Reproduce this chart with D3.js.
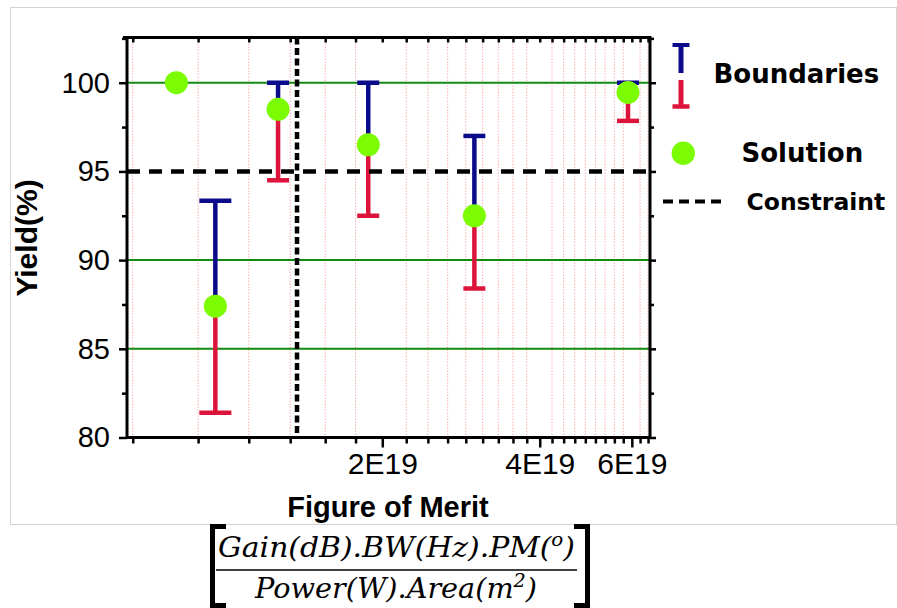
<!DOCTYPE html>
<html><head><meta charset="utf-8">
<script src="https://cdn.jsdelivr.net/npm/d3@7"></script>
<style>
  body { margin: 0; background: #fff; }
  svg { display: block; }
  .tick text { font-family: "Liberation Sans", Arial, sans-serif; fill: #000; }
</style>
</head><body>
<svg id="chart" width="897" height="608"></svg>
<script>
// Yield versus figure of merit: optimised solutions with their yield boundaries
const fom        = [8.08e18, 9.59e18, 1.264e19, 1.88e19, 3.0e19, 5.9e19];
const solution   = [100, 87.4, 98.5, 96.5, 92.5, 99.45];
const upperBound = [null, 93.35, 100, 100, 97.0, 100];
const lowerBound = [null, 81.4, 94.5, 92.5, 88.4, 97.85];

const yieldConstraint = 95;
const fomConstraint = 1.374e19;

const xTickValues = [2e19, 4e19, 6e19];
const xTickLabels = ["2E19", "4E19", "6E19"];
const yTickValues = [80, 85, 90, 95, 100];
const yTickLabels = ["80", "85", "90", "95", "100"];
const yGridValues = [85, 90, 100];
const legendLabels = ["Boundaries", "Solution", "Constraint"];

const svg = d3.select("#chart");
const plot = { l: 127, r: 650, t: 37.5, b: 437.5 };

const x = d3.scaleLog().domain([6.5e18, 6.5e19]).range([plot.l, plot.r]);
const y = d3.scaleLinear().domain([80, 102.55]).range([plot.b, plot.t]);

// minor x ticks: nine steps between majors
const xMinor = d3.range(3, 30).map(k => k * 2e19 / 9)
  .filter(v => !xTickValues.some(m => Math.abs(m - v) < 1e16))
  .filter(v => v >= x.domain()[0] && v <= x.domain()[1]);
const yMinor = d3.range(82.5, 102.55, 5);

// outer light frame
svg.append("rect").attr("x", 10.5).attr("y", 7.5).attr("width", 886).attr("height", 517)
  .attr("fill", "none").attr("stroke", "#d4d4d4").attr("stroke-width", 1);

// vertical minor grid
svg.append("g").selectAll("line").data(xMinor).join("line")
  .attr("x1", d => x(d)).attr("x2", d => x(d))
  .attr("y1", plot.t).attr("y2", plot.b)
  .attr("stroke", "#ff8f8f").attr("stroke-width", 1)
  .attr("stroke-dasharray", "1.5,1.5").attr("opacity", 0.7);

// horizontal major grid
svg.append("g").selectAll("line").data(yGridValues).join("line")
  .attr("x1", plot.l).attr("x2", plot.r)
  .attr("y1", d => y(d)).attr("y2", d => y(d))
  .attr("stroke", "#138a13").attr("stroke-width", 2);

// error bars: upper boundary in navy, lower boundary in crimson
const bars = fom.map((f, i) => ({ f, s: solution[i], hi: upperBound[i], lo: lowerBound[i], i }))
  .filter(d => d.hi !== null);
const capHalf = d => (d.i === 1 ? 16 : 11);
const gBars = svg.append("g");
bars.forEach(d => {
  const cx = x(d.f);
  gBars.append("line").attr("x1", cx).attr("x2", cx).attr("y1", y(d.s)).attr("y2", y(d.hi))
    .attr("stroke", "#0a0a8a").attr("stroke-width", 4.5);
  gBars.append("line").attr("x1", cx - capHalf(d)).attr("x2", cx + capHalf(d))
    .attr("y1", y(d.hi)).attr("y2", y(d.hi))
    .attr("stroke", "#0a0a8a").attr("stroke-width", 4.5);
  gBars.append("line").attr("x1", cx).attr("x2", cx).attr("y1", y(d.s)).attr("y2", y(d.lo))
    .attr("stroke", "#dc143c").attr("stroke-width", 4.5);
  gBars.append("line").attr("x1", cx - capHalf(d)).attr("x2", cx + capHalf(d))
    .attr("y1", y(d.lo)).attr("y2", y(d.lo))
    .attr("stroke", "#dc143c").attr("stroke-width", 4.5);
});

// constraint lines
svg.append("line").attr("x1", plot.l).attr("x2", plot.r)
  .attr("y1", y(yieldConstraint)).attr("y2", y(yieldConstraint))
  .attr("stroke", "#000").attr("stroke-width", 4.5).attr("stroke-dasharray", "13,9");
svg.append("line").attr("x1", x(fomConstraint)).attr("x2", x(fomConstraint))
  .attr("y1", plot.t).attr("y2", plot.b)
  .attr("stroke", "#000").attr("stroke-width", 4.5).attr("stroke-dasharray", "7,3.5");

// solutions
svg.append("g").selectAll("circle").data(fom).join("circle")
  .attr("cx", d => x(d)).attr("cy", (d, i) => y(solution[i])).attr("r", 11.5)
  .attr("fill", "#7cfc00");

// axes
function styleAxis(g, tickW) {
  g.select(".domain").remove();
  g.selectAll(".tick line").attr("stroke", "#000").attr("stroke-width", tickW);
}
svg.append("g").attr("transform", `translate(0,${plot.b})`)
  .call(d3.axisBottom(x).tickValues(xMinor).tickSize(6).tickFormat(""))
  .call(g => styleAxis(g, 2.5));
svg.append("g").attr("transform", `translate(0,${plot.b})`)
  .call(d3.axisBottom(x).tickValues(xTickValues).tickSize(10).tickPadding(5)
    .tickFormat((d, i) => xTickLabels[i]))
  .call(g => styleAxis(g, 2.5))
  .call(g => g.selectAll(".tick text").attr("font-size", 30));
svg.append("g").attr("transform", `translate(0,${plot.t})`)
  .call(d3.axisBottom(x).tickValues(xMinor.concat(xTickValues)).tickSize(5).tickFormat(""))
  .call(g => styleAxis(g, 2.5));

svg.append("g").attr("transform", `translate(${plot.l},0)`)
  .call(d3.axisLeft(y).tickValues(yMinor).tickSize(5).tickFormat(""))
  .call(g => styleAxis(g, 2.5));
svg.append("g").attr("transform", `translate(${plot.l},0)`)
  .call(d3.axisLeft(y).tickValues(yTickValues).tickSize(8).tickPadding(9)
    .tickFormat((d, i) => yTickLabels[i]))
  .call(g => styleAxis(g, 2.5))
  .call(g => g.selectAll(".tick text").attr("font-size", 29));
svg.append("g").attr("transform", `translate(${plot.r},0)`)
  .call(d3.axisRight(y).tickValues(yMinor).tickSize(4).tickFormat(""))
  .call(g => styleAxis(g, 2.5));
svg.append("g").attr("transform", `translate(${plot.r},0)`)
  .call(d3.axisRight(y).tickValues(yTickValues).tickSize(6).tickFormat(""))
  .call(g => styleAxis(g, 2.5));

// plot frame
svg.append("path")
  .attr("d", `M${plot.l},${plot.b}H${plot.r}V${plot.t}H${plot.l - 4}M${plot.l},${plot.t}V${plot.b}`)
  .attr("fill", "none").attr("stroke", "#000").attr("stroke-width", 3);

// axis titles
svg.append("text").attr("x", 388).attr("y", 517).attr("text-anchor", "middle")
  .attr("font-family", "Liberation Sans, Arial, sans-serif").attr("font-weight", "bold")
  .attr("font-size", 29).text("Figure of Merit");
svg.append("text").attr("transform", "translate(37,238) rotate(-90)").attr("text-anchor", "middle")
  .attr("font-family", "Liberation Sans, Arial, sans-serif").attr("font-weight", "bold")
  .attr("font-size", 30).text("Yield(%)");

// figure-of-merit definition under the x axis
const fml = svg.append("g").attr("font-family", "DejaVu Serif, serif").attr("font-style", "italic");
const num = fml.append("text").attr("x", 218).attr("y", 557).attr("font-size", 27)
  .attr("textLength", 357).attr("lengthAdjust", "spacingAndGlyphs");
num.append("tspan").text("Gain(dB).BW(Hz).PM(");
num.append("tspan").attr("font-size", 18).attr("dy", -11).text("o");
num.append("tspan").attr("dy", 11).text(")");
const den = fml.append("text").attr("x", 255).attr("y", 598).attr("font-size", 27)
  .attr("textLength", 282).attr("lengthAdjust", "spacingAndGlyphs");
den.append("tspan").text("Power(W).Area(m");
den.append("tspan").attr("font-size", 18).attr("dy", -11).text("2");
den.append("tspan").attr("dy", 11).text(")");
svg.append("line").attr("x1", 216).attr("x2", 577).attr("y1", 570).attr("y2", 570)
  .attr("stroke", "#000").attr("stroke-width", 1.5);
svg.append("path").attr("d", "M226,526.5H212.5V605.5H226").attr("fill", "none")
  .attr("stroke", "#000").attr("stroke-width", 5);
svg.append("path").attr("d", "M574,526.5H587.5V605.5H574").attr("fill", "none")
  .attr("stroke", "#000").attr("stroke-width", 5);

// legend
const lg = svg.append("g");
lg.append("line").attr("x1", 681).attr("x2", 681).attr("y1", 45).attr("y2", 73)
  .attr("stroke", "#0a0a8a").attr("stroke-width", 5);
lg.append("line").attr("x1", 672.5).attr("x2", 689.5).attr("y1", 45).attr("y2", 45)
  .attr("stroke", "#0a0a8a").attr("stroke-width", 4);
lg.append("line").attr("x1", 681).attr("x2", 681).attr("y1", 80).attr("y2", 106)
  .attr("stroke", "#dc143c").attr("stroke-width", 5);
lg.append("line").attr("x1", 672.5).attr("x2", 689.5).attr("y1", 106.5).attr("y2", 106.5)
  .attr("stroke", "#dc143c").attr("stroke-width", 4.5);
lg.append("circle").attr("cx", 683.3).attr("cy", 153.3).attr("r", 11.7).attr("fill", "#7cfc00");
lg.append("line").attr("x1", 663).attr("x2", 722).attr("y1", 201.5).attr("y2", 201.5)
  .attr("stroke", "#000").attr("stroke-width", 4).attr("stroke-dasharray", "10,6");
const legendText = [
  { t: legendLabels[0], x: 713.5, y: 83.3, s: 26 },
  { t: legendLabels[1], x: 741.5, y: 162, s: 26 },
  { t: legendLabels[2], x: 746.5, y: 210, s: 23.5 }
];
lg.selectAll("text").data(legendText).join("text")
  .attr("x", d => d.x).attr("y", d => d.y).attr("font-size", d => d.s)
  .attr("font-family", "DejaVu Sans, Verdana, sans-serif").attr("font-weight", "bold")
  .text(d => d.t);
</script>
</body></html>
